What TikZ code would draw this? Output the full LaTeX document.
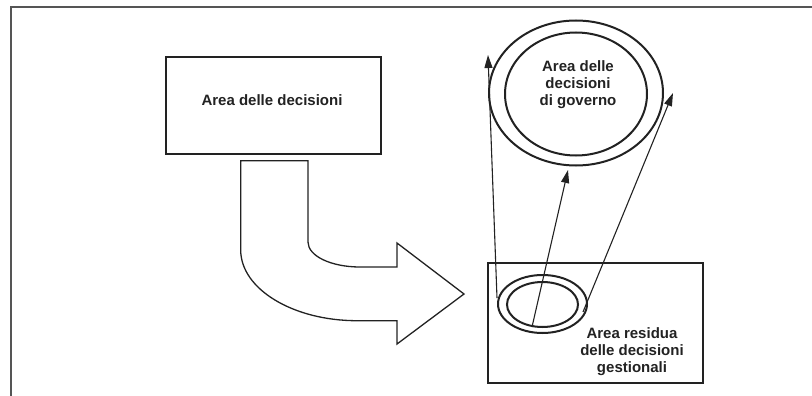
\documentclass[tikz,border=0pt]{standalone}
\usepackage{fontspec}
\setmainfont{Liberation Sans}
\usetikzlibrary{arrows.meta,shapes.geometric}
\definecolor{ink}{HTML}{222222}
\definecolor{framegray}{HTML}{555555}
\tikzset{
  boxstyle/.style={draw=ink,line width=1.5pt},
  ringstyle/.style={draw=ink,line width=2pt},
  labelstyle/.style={font=\fontsize{15pt}{17pt}\selectfont\bfseries,text=ink,align=center,inner sep=0pt},
  linkstyle/.style={draw=ink,line width=1.1pt,-{Triangle[length=13pt,width=8pt]}},
  shapestyle/.style={draw=ink,line width=1.3pt,line join=miter}
}
\begin{document}
\begin{tikzpicture}[x=1pt,y=-1pt]
\useasboundingbox (0,0) rectangle (812,396);
% outer frame (only top and left visible)
\draw[framegray,line width=2pt] (11,396) -- (11,7) -- (812,7);
% first box
\node[boxstyle,minimum width=215pt,minimum height=97pt,inner sep=0pt] (boxA) at (273.5,105.5) {};
\node[labelstyle] (txtA) at (272,100) {Area delle decisioni};
% bent arrow
\draw[shapestyle] (240.7,160.7) -- (308,160.7) -- (308,242)
  .. controls (308,256) and (331,267) .. (360,267)
  -- (397,267) -- (397,243) -- (464,294) -- (397,344) -- (397,320.7) -- (357,320.7)
  .. controls (293,320.7) and (240.7,289) .. (240.7,250) -- cycle;
% big rings
\node[ringstyle,ellipse,minimum width=174pt,minimum height=145pt,inner sep=0pt] (bigOut) at (576,93) {};
\node[ringstyle,ellipse,minimum width=142pt,minimum height=123pt,inner sep=0pt] (bigIn) at (576,94) {};
\node[labelstyle] (txtB) at (578,85) {Area delle\\decisioni\\di governo};
% second box
\node[boxstyle,minimum width=215pt,minimum height=120pt,inner sep=0pt] (boxB) at (595.5,323) {};
\node[labelstyle] (txtC) at (632,352) {Area residua\\delle decisioni\\gestionali};
% small rings
\node[ringstyle,ellipse,minimum width=89pt,minimum height=58pt,inner sep=0pt] (smallOut) at (542.5,304) {};
\node[ringstyle,ellipse,minimum width=71pt,minimum height=45pt,inner sep=0pt] (smallIn) at (542.5,304.5) {};
% arrow endpoints
\coordinate (s1) at (497,298);
\coordinate (e1) at (488,55);
\coordinate (s2) at (532,327);
\coordinate (e2) at (568,170);
\coordinate (s3) at (583,312);
\coordinate (e3) at (673,93);
\draw[linkstyle] (s1) -- (e1);
\draw[linkstyle] (s2) -- (e2);
\draw[linkstyle] (s3) -- (e3);
\end{tikzpicture}
\end{document}
